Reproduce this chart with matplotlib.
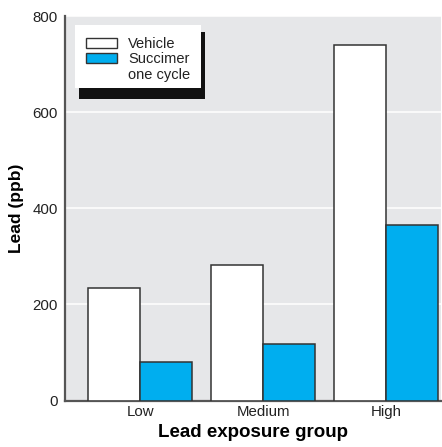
import numpy as np
import matplotlib
matplotlib.use("Agg")
import matplotlib.pyplot as plt
from matplotlib.patches import Rectangle

plt.rcParams['font.family'] = ['Liberation Sans Narrow', 'Liberation Sans', 'DejaVu Sans']

groups = ['Low', 'Medium', 'High']
vehicle = [235, 283, 740]
succimer = [80, 117, 366]
series_names = ['Vehicle', 'Succimer\none cycle']
yticks = [0, 200, 400, 600, 800]

blue = '#00aeef'
bg = '#e6e7e9'
edge = '#333333'

fig = plt.figure(figsize=(4.42, 4.47), dpi=100)
ax = fig.add_axes([65 / 442, 1 - 400.5 / 447, 376 / 442, 384.2 / 447])
ax.set_facecolor(bg)

x = np.arange(len(groups))
w = 0.423
ax.bar(x - w / 2, vehicle, w, color='white', edgecolor=edge, linewidth=1.1, zorder=3)
ax.bar(x + w / 2, succimer, w, color=blue, edgecolor=edge, linewidth=1.1, zorder=3)

ax.set_xlim(-0.613, 2.448)
ax.set_ylim(0, 800)
ax.set_yticks(yticks)
ax.set_xticks(x)
ax.set_xticklabels(groups)
ax.tick_params(axis='both', length=0, labelsize=10.8, colors='#222222')
ax.tick_params(axis='y', pad=5)
ax.tick_params(axis='x', pad=3)
ax.yaxis.grid(True, color='white', linewidth=1.1, zorder=1)
ax.set_axisbelow(True)

for s in ['top', 'right']:
    ax.spines[s].set_visible(False)
ax.spines['left'].set_color('#555555')
ax.spines['left'].set_linewidth(1.6)
ax.spines['bottom'].set_color('#555555')
ax.spines['bottom'].set_linewidth(1.6)

ax.set_ylabel('Lead (ppb)', fontsize=12.5, fontweight='bold', labelpad=6)
ax.set_xlabel('Lead exposure group', fontsize=13.5, fontweight='bold', labelpad=4)

# legend box with hard black shadow
ax.add_patch(Rectangle((0.0372, 0.7856), 0.335, 0.174, transform=ax.transAxes,
                       facecolor='#111111', edgecolor='none', zorder=5))
ax.add_patch(Rectangle((0.0266, 0.8135), 0.335, 0.1635, transform=ax.transAxes,
                       facecolor='white', edgecolor='none', zorder=6))
ax.add_patch(Rectangle((0.0559, 0.9175), 0.0824, 0.026, transform=ax.transAxes,
                       facecolor='white', edgecolor=edge, linewidth=1, zorder=7))
ax.add_patch(Rectangle((0.0559, 0.878), 0.0824, 0.026, transform=ax.transAxes,
                       facecolor=blue, edgecolor=edge, linewidth=1, zorder=7))
ax.text(0.168, 0.928, series_names[0], transform=ax.transAxes, fontsize=10.5,
        va='center', ha='left', zorder=8, color='#222222')
ax.text(0.168, 0.906, series_names[1], transform=ax.transAxes, fontsize=10.5,
        va='top', ha='left', linespacing=1.15, zorder=8, color='#222222')

fig.savefig('out.png', dpi=100)
